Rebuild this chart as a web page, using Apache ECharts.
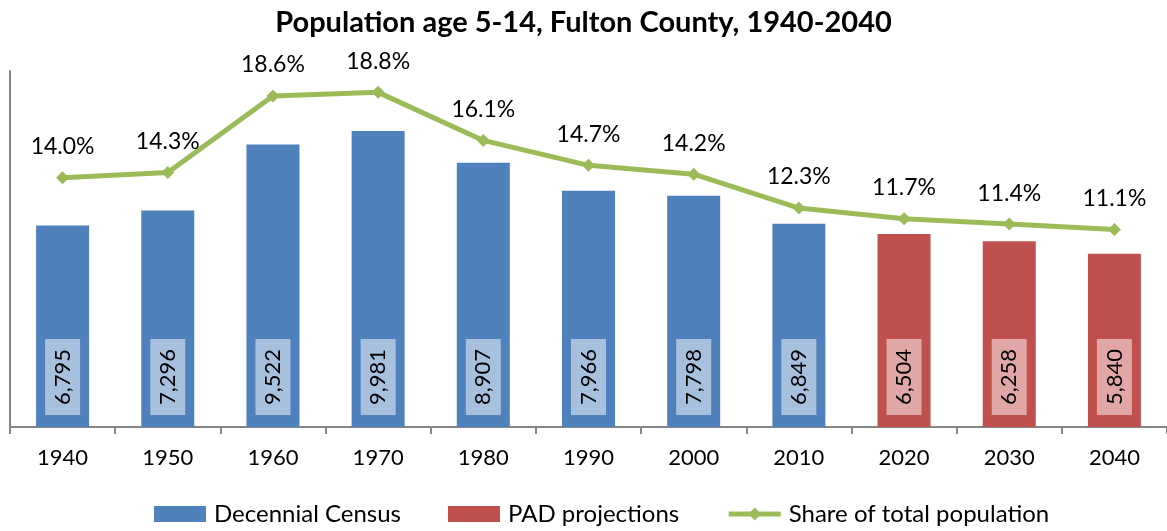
<!DOCTYPE html>
<html style="height: 100%">
  <head>
    <meta charset="utf-8" />
    <title>Population age 5-14, Fulton County</title>
    <script src="https://cdn.jsdelivr.net/npm/echarts@6/dist/echarts.min.js"></script>
  </head>
  <body style="height: 100%; margin: 0; background: #fff">
    <div id="container" style="width: 1167px; height: 531px"></div>
    <script type="text/javascript">
      // data
      const years = ["1940", "1950", "1960", "1970", "1980", "1990", "2000", "2010", "2020", "2030", "2040"];
      const census = [6795, 7296, 9522, 9981, 8907, 7966, 7798, 6849, "-", "-", "-"];
      const projections = ["-", "-", "-", "-", "-", "-", "-", "-", 6504, 6258, 5840];
      const sharePct = [14.0, 14.3, 18.6, 18.8, 16.1, 14.7, 14.2, 12.3, 11.7, 11.4, 11.1];

      const font = "Lato, 'Noto Sans', sans-serif";
      const gray = "#868686";

      // rotated value label inside the bar, on a lighter box
      function barLabel(bg) {
        return {
          show: true,
          position: "insideBottom",
          distance: 12,
          rotate: 90,
          align: "left",
          verticalAlign: "middle",
          fontFamily: font,
          fontSize: 22,
          color: "#000",
          backgroundColor: bg,
          padding: [7, 10, 6, 10],
          formatter: (p) => p.value.toLocaleString("en-US"),
        };
      }

      let dom = document.getElementById("container");
      let chart = echarts.init(dom);
      chart.setOption({
        animation: false,
        title: {
          text: "Population age 5-14, Fulton County, 1940-2040",
          left: "center",
          top: 3,
          textStyle: { fontFamily: font, fontSize: 29, fontWeight: "bold", color: "#000" },
        },
        legend: {
          bottom: 0,
          left: 149,
          itemWidth: 52,
          itemHeight: 16,
          itemGap: 47,
          textStyle: { fontFamily: font, fontSize: 24, color: "#000", padding: [0, 0, 0, 3] },
          data: [
            { name: "Decennial Census", icon: "rect" },
            { name: "PAD projections", icon: "rect" },
            { name: "Share of total population", lineStyle: { width: 5 } },
          ],
        },
        grid: { left: 10, top: 71, width: 1162, height: 356 },
        xAxis: {
          type: "category",
          data: years,
          axisLine: { lineStyle: { color: gray, width: 2 } },
          axisTick: { show: true, length: 7, lineStyle: { color: gray, width: 2 } },
          axisLabel: { margin: 20, fontFamily: font, fontSize: 22, color: "#000" },
        },
        yAxis: [
          {
            type: "value",
            min: 0,
            max: 12000,
            axisLine: { show: true, lineStyle: { color: gray, width: 2 } },
            axisTick: { show: false },
            axisLabel: { show: false },
            splitLine: { show: false },
          },
          {
            type: "value",
            min: 0,
            max: 20,
            axisLine: { show: false },
            axisTick: { show: false },
            axisLabel: { show: false },
            splitLine: { show: false },
          },
        ],
        series: [
          {
            name: "Decennial Census",
            type: "bar",
            stack: "pop",
            barWidth: 53,
            data: census,
            itemStyle: { color: "#4F81BD" },
            label: barLabel("#A7C0DE"),
          },
          {
            name: "PAD projections",
            type: "bar",
            stack: "pop",
            barWidth: 53,
            data: projections,
            itemStyle: { color: "#C0504D" },
            label: barLabel("#E0A7A6"),
          },
          {
            name: "Share of total population",
            type: "line",
            yAxisIndex: 1,
            data: sharePct,
            symbol: "diamond",
            symbolSize: 13,
            lineStyle: { color: "#9BBB59", width: 5 },
            itemStyle: { color: "#9BBB59" },
            label: {
              show: true,
              position: "top",
              distance: 13,
              fontFamily: font,
              fontSize: 23,
              color: "#000",
              formatter: (p) => p.value.toFixed(1) + "%",
            },
          },
        ],
      });
    </script>
  </body>
</html>
